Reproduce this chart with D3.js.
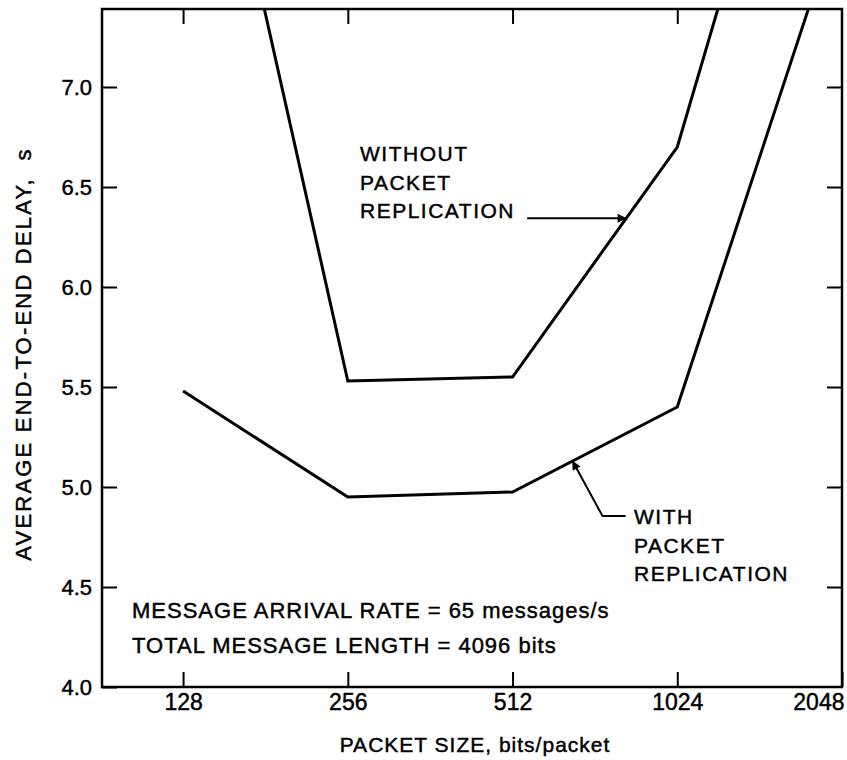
<!DOCTYPE html>
<html>
<head>
<meta charset="utf-8">
<script src="https://cdn.jsdelivr.net/npm/d3@7"></script>
<style>
  html, body { margin: 0; padding: 0; background: #fff; }
  svg { display: block; font-family: "Liberation Sans", Arial, Helvetica, sans-serif; }
  text { fill: #000; stroke: #000; stroke-width: 0.45px; }
</style>
</head>
<body>
<svg id="chart" width="847" height="760"></svg>
<script>
// Packet sizes (bits/packet) on a log2 axis
const packetSizes = [128, 256, 512, 1024, 2048];
// Average end-to-end delay (s); the outer points lie above the visible range
const delayWithout = [9.2, 5.53, 5.55, 6.70, 9.5];
const delayWith = [5.48, 4.95, 4.975, 5.40, 7.9];
const yTicks = [4.0, 4.5, 5.0, 5.5, 6.0, 6.5, 7.0];
const xTickLabels = ["128", "256", "512", "1024", "2048"];

const svg = d3.select("#chart");
const plot = { left: 102, right: 842, top: 9, bottom: 687 };

const x = d3.scaleLog().base(2).domain([91, 2048]).range([plot.left, plot.right]);
const y = d3.scaleLinear().domain([4.0, 7.39]).range([plot.bottom, plot.top]);

// clip curves to the frame
svg.append("defs").append("clipPath").attr("id", "plotClip")
  .append("rect")
  .attr("x", plot.left).attr("y", plot.top)
  .attr("width", plot.right - plot.left).attr("height", plot.bottom - plot.top);

// arrowhead marker
svg.select("defs").append("marker")
  .attr("id", "arrowHead")
  .attr("viewBox", "0 0 10 10")
  .attr("refX", 9.5).attr("refY", 5)
  .attr("markerWidth", 15).attr("markerHeight", 9)
  .attr("markerUnits", "userSpaceOnUse")
  .attr("orient", "auto")
  .append("path").attr("d", "M0,0 L10,5 L0,10 Z").attr("fill", "#000");

const tickLen = 15;

// bottom axis with inward ticks
const bottomAxis = svg.append("g")
  .attr("transform", `translate(0,${plot.bottom})`)
  .call(d3.axisBottom(x).tickValues(packetSizes)
    .tickFormat((d, i) => xTickLabels[i]).tickSize(-tickLen).tickPadding(7));
bottomAxis.selectAll("text")
  .style("font-size", "23px")
  .attr("text-anchor", (d, i) => i === packetSizes.length - 1 ? "end" : "middle")
  .attr("dx", (d, i) => i === packetSizes.length - 1 ? "2" : "0");

// top axis: ticks only
svg.append("g")
  .attr("transform", `translate(0,${plot.top})`)
  .call(d3.axisTop(x).tickValues(packetSizes.slice(0, -1)).tickFormat("").tickSize(-tickLen));

// left axis with inward ticks
const leftAxis = svg.append("g")
  .attr("transform", `translate(${plot.left},0)`)
  .call(d3.axisLeft(y).tickValues(yTicks).tickFormat(d3.format(".1f"))
    .tickSize(-tickLen).tickPadding(10));
leftAxis.selectAll("text").style("font-size", "22px");

// right axis: ticks only
svg.append("g")
  .attr("transform", `translate(${plot.right},0)`)
  .call(d3.axisRight(y).tickValues(yTicks.slice(1)).tickFormat("").tickSize(-tickLen));

svg.selectAll(".domain").remove();
svg.selectAll(".tick line").attr("stroke", "#000").attr("stroke-width", 2);

// frame
svg.append("rect")
  .attr("x", plot.left).attr("y", plot.top)
  .attr("width", plot.right - plot.left).attr("height", plot.bottom - plot.top)
  .attr("fill", "none").attr("stroke", "#000").attr("stroke-width", 2.5);

// curves
const line = d3.line().x(d => x(d[0])).y(d => y(d[1]));
const seriesWithout = packetSizes.map((s, i) => [s, delayWithout[i]]);
const seriesWith = packetSizes.map((s, i) => [s, delayWith[i]]);

const curves = svg.append("g").attr("clip-path", "url(#plotClip)");
[seriesWithout, seriesWith].forEach(series => {
  curves.append("path").datum(series)
    .attr("d", line)
    .attr("fill", "none").attr("stroke", "#000")
    .attr("stroke-width", 3).attr("stroke-linejoin", "miter");
});

// point on a series at a given packet size (piecewise linear in log2 space)
function pointOn(series, size) {
  for (let i = 0; i < series.length - 1; i++) {
    const [s0, v0] = series[i], [s1, v1] = series[i + 1];
    if (size >= s0 && size <= s1) {
      const t = Math.log2(size / s0) / Math.log2(s1 / s0);
      return [x(size), y(v0 + t * (v1 - v0))];
    }
  }
  return null;
}

const annotStyle = sel => sel.style("font-size", "21px").style("letter-spacing", "1.5px");

// "WITHOUT PACKET REPLICATION" label with horizontal arrow
const tipA = pointOn(seriesWithout, 826);
svg.append("line")
  .attr("x1", tipA[0] - 99).attr("y1", tipA[1])
  .attr("x2", tipA[0]).attr("y2", tipA[1])
  .attr("stroke", "#000").attr("stroke-width", 2)
  .attr("marker-end", "url(#arrowHead)");
const labelA = svg.append("text").attr("x", 360).attr("y", tipA[1] - 57).call(annotStyle);
["WITHOUT", "PACKET", "REPLICATION"].forEach((t, i) => {
  labelA.append("tspan").attr("x", 360).attr("dy", i === 0 ? 0 : 28.5).text(t);
});

// "WITH PACKET REPLICATION" label with bent arrow
const tipB = pointOn(seriesWith, 659);
const elbow = [tipB[0] + 30, tipB[1] + 55];
svg.append("path")
  .attr("d", `M${elbow[0] + 23},${elbow[1]} L${elbow[0]},${elbow[1]} L${tipB[0]},${tipB[1]}`)
  .attr("fill", "none").attr("stroke", "#000").attr("stroke-width", 2)
  .attr("marker-end", "url(#arrowHead)");
const labelB = svg.append("text").attr("x", 634).attr("y", elbow[1] + 8).call(annotStyle);
["WITH", "PACKET", "REPLICATION"].forEach((t, i) => {
  labelB.append("tspan").attr("x", 634).attr("dy", i === 0 ? 0 : 28.5).text(t);
});

// parameter notes
const notes = ["MESSAGE ARRIVAL RATE = 65 messages/s", "TOTAL MESSAGE LENGTH = 4096 bits"];
notes.forEach((t, i) => {
  svg.append("text")
    .attr("x", 132).attr("y", 618 + i * 35)
    .style("font-size", "22px").style("letter-spacing", "1px")
    .text(t);
});

// axis titles
svg.append("text")
  .attr("x", (plot.left + plot.right) / 2 + 3).attr("y", 752)
  .attr("text-anchor", "middle")
  .style("font-size", "21px").style("letter-spacing", "1px")
  .text("PACKET SIZE, bits/packet");

svg.append("text")
  .attr("transform", "translate(31,354) rotate(-90)")
  .attr("text-anchor", "middle")
  .style("font-size", "22px").style("letter-spacing", "2.2px")
  .style("white-space", "pre")
  .text("AVERAGE END-TO-END DELAY,  s");
</script>
</body>
</html>
